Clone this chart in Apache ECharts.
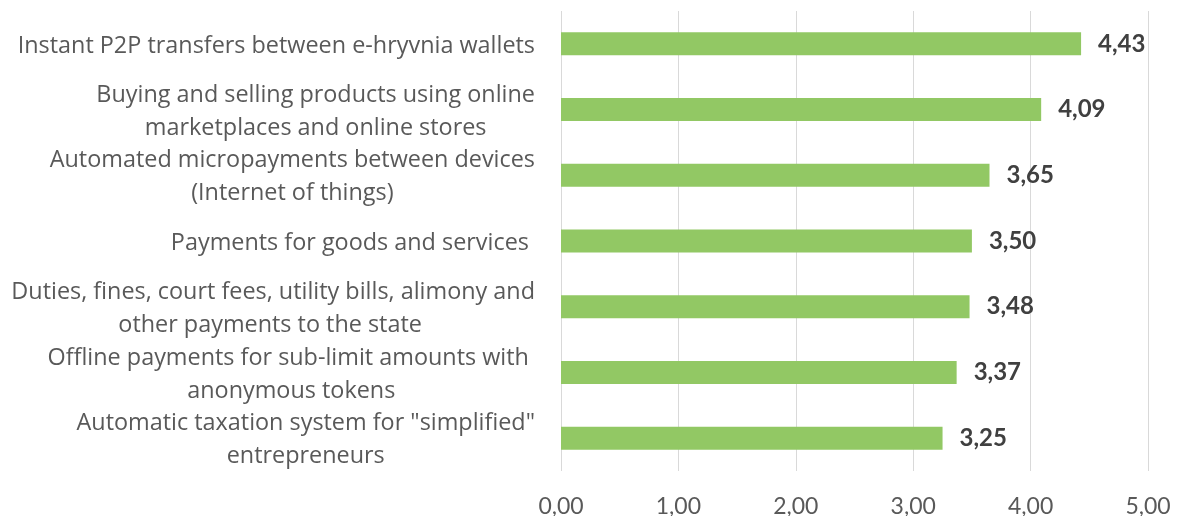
<!DOCTYPE html>
<html>
<head>
<meta charset="utf-8">
<script src="https://cdn.jsdelivr.net/npm/echarts@6/dist/echarts.min.js"></script>
<style>
    html, body {margin: 0; padding: 0; background: #fff;}
    #chart {width: 1180px; height: 516px;}
</style>
</head>
<body>
<div id="chart"></div>
<script>
/* Chart data, top to bottom. */
var categories = [
    'Instant P2P transfers between e-hryvnia wallets',
    'Buying and selling products using online\nmarketplaces and online stores',
    'Automated micropayments between devices\n(Internet of things)',
    'Payments for goods and services ',
    'Duties, fines, court fees, utility bills, alimony and\nother payments to the state ',
    'Offline payments for sub-limit amounts with \nanonymous tokens',
    'Automatic taxation system for "simplified"\nentrepreneurs'
];
var scores = [4.43, 4.09, 3.65, 3.50, 3.48, 3.37, 3.25];
var xTicks = [0, 1, 2, 3, 4, 5];

var LABEL_FONT = 'Open Sans';
var VALUE_FONT = 'Lato';
var TEXT_GREY  = '#595959';

function commaNumber(v)
{
    return Number(v).toFixed(2).replace('.', ',');
}

var chart = echarts.init(document.getElementById('chart'));

chart.setOption(
{
    animation: false,
    /* Keep the plot box fixed, the tick labels sit right on the bottom edge. */
    grid: {left: 561, right: 32, top: 11, bottom: 45, outerBoundsMode: 'none'},
    xAxis:
    {
        type: 'value',
        min: xTicks[0],
        max: xTicks[xTicks.length - 1],
        interval: 1,
        axisLine: {show: false},
        axisTick: {show: false},
        splitLine: {show: true, lineStyle: {color: '#d9d9d9', width: 1}},
        axisLabel:
        {
            margin: 24,
            color: TEXT_GREY,
            fontFamily: VALUE_FONT,
            fontSize: 23,
            formatter: commaNumber
        }
    },
    yAxis:
    {
        type: 'category',
        inverse: true,
        data: categories,
        axisLine: {show: false},
        axisTick: {show: false},
        axisLabel:
        {
            margin: 26,
            align: 'right',
            padding: [4, 0, 0, 0],
            color: TEXT_GREY,
            fontFamily: LABEL_FONT,
            fontSize: 23.4,
            /* Excel centres wrapped lines inside a right aligned block. */
            formatter: function(value)
            {
                return value.split('\n').map(function(line){return '{c|' + line + '}';}).join('\n');
            },
            rich:
            {
                c: {align: 'center', color: TEXT_GREY, fontFamily: LABEL_FONT, fontSize: 23.4, lineHeight: 33}
            }
        }
    },
    series:
    [{
        type: 'bar',
        data: scores,
        barWidth: 23,
        itemStyle: {color: '#92c864'},
        label:
        {
            show: true,
            position: 'right',
            distance: 17,
            color: '#404040',
            fontFamily: VALUE_FONT,
            fontWeight: 'bold',
            fontSize: 24,
            formatter: function(p){return commaNumber(p.value);}
        }
    }]
});
</script>
</body>
</html>
